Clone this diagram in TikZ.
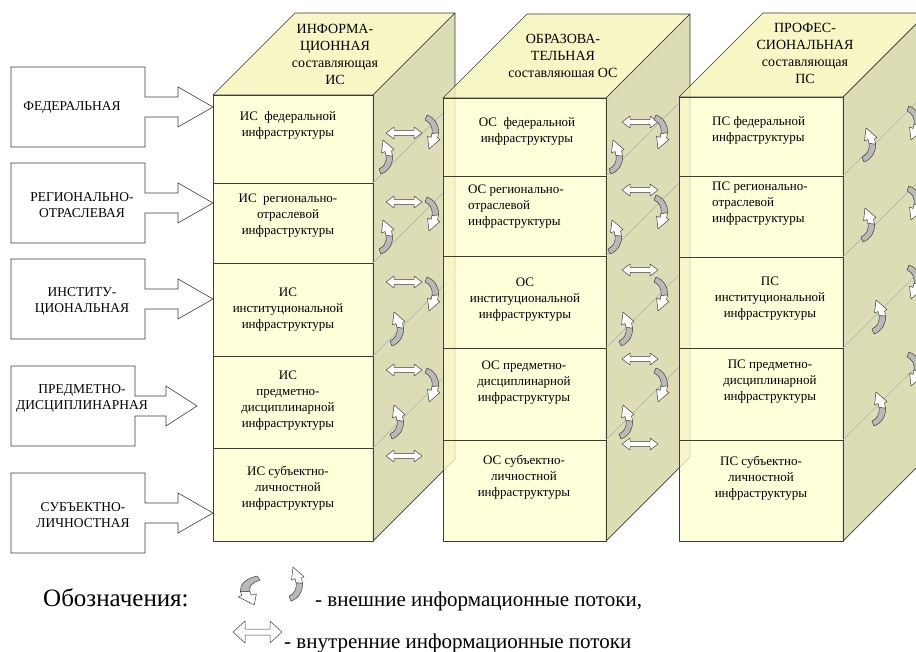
\documentclass[tikz,border=0pt]{standalone}
\usepackage{fontspec}
\setmainfont{Liberation Serif}
\newfontfamily\tnr{Liberation Serif}

\definecolor{frontc}{RGB}{255,255,206}
\definecolor{topc}{RGB}{244,244,179}
\definecolor{sidec}{RGB}{210,210,156}
\definecolor{edgec}{RGB}{60,60,60}
\definecolor{bandc}{RGB}{185,185,185}

\tikzset{
  extR/.pic={
    \filldraw[band] (2,0) .. controls (10,3) and (14,10) .. (13.5,18) -- (7,18.5) .. controls (8,12) and (5,7) .. (0,5) -- cycle;
    \filldraw[headc] (13.5,18) .. controls (13.5,21) .. (12.5,23) -- (15,24.5) -- (4,34) -- (2.5,21) -- (6,22.5) .. controls (6.8,21) .. (7,18.5) -- cycle;
  },
  extL/.pic={\pic[yscale=-1] at (0,34) {extR};},
  intA/.pic={
    \filldraw[headc] (-18,0) -- (-10,-6) -- (-10,-2.5) -- (10,-2.5) -- (10,-6) -- (18,0) -- (10,6) -- (10,2.5) -- (-10,2.5) -- (-10,6) -- cycle;
  },
  intB/.pic={
    \filldraw[headc] (-24.5,0) -- (-12.5,-11) -- (-12.5,-3) -- (12.5,-3) -- (12.5,-11) -- (24.5,0) -- (12.5,11) -- (12.5,3) -- (-12.5,3) -- (-12.5,11) -- cycle;
  },
}

\begin{document}
\begin{tikzpicture}[x=1pt,y=-1pt,
  face/.style={draw=edgec, line width=0.7pt, line join=round, fill opacity=0.75},
  frontface/.style={face, fill=frontc},
  topface/.style={face, fill=topc},
  sideface/.style={face, fill=sidec},
  divider/.style={draw=edgec, line width=0.7pt},
  diag/.style={draw=gray!65, line width=0.5pt},
  band/.style={fill=bandc, draw=edgec, line width=0.5pt, line join=round},
  headc/.style={fill=white, draw=edgec, line width=0.5pt, line join=round},
  inbox/.style={draw=edgec, line width=0.6pt, fill=white},
  cell/.style={inner sep=0pt, align=center, font=\tnr\fontsize{13}{16}\selectfont},
  leftcell/.style={cell, align=left},
  toptxt/.style={inner sep=0pt, align=center, font=\tnr\fontsize{14}{17}\selectfont},
  boxtxt/.style={inner sep=0pt, align=center, font=\tnr\fontsize{13.5}{16}\selectfont},
  legtxt/.style={inner sep=0pt, font=\tnr\fontsize{21}{25}\selectfont}
]
\useasboundingbox (0,0) rectangle (916,652);
\clip (0,0) rectangle (916,652);

% levels on the left
\draw[inbox] (11,67) -- (145,67) -- (145,97) -- (178,97) -- (178,87) -- (213,107) -- (178,127) -- (178,117) -- (145,117) -- (145,147) -- (11,147) -- cycle;
\draw[inbox] (11,163) -- (145,163) -- (145,193) -- (178,193) -- (178,183) -- (213,203) -- (178,223) -- (178,213) -- (145,213) -- (145,243) -- (11,243) -- cycle;
\draw[inbox] (11,259) -- (145,259) -- (145,289) -- (178,289) -- (178,279) -- (213,299) -- (178,319) -- (178,309) -- (145,309) -- (145,339) -- (11,339) -- cycle;
\draw[inbox] (11,366) -- (135,366) -- (135,396) -- (166,396) -- (166,386) -- (197,406) -- (166,426) -- (166,416) -- (135,416) -- (135,446) -- (11,446) -- cycle;
\draw[inbox] (11,473) -- (145,473) -- (145,503) -- (178,503) -- (178,493) -- (213,513) -- (178,533) -- (178,523) -- (145,523) -- (145,553) -- (11,553) -- cycle;
\node[boxtxt] (fed) at (72,107) {ФЕДЕРАЛЬНАЯ};
\node[boxtxt] (reg) at (82,205) {РЕГИОНАЛЬНО-\\ОТРАСЛЕВАЯ};
\node[boxtxt] (inst) at (82,301) {ИНСТИТУ-\\ЦИОНАЛЬНАЯ};
\node[boxtxt] (pred) at (82,398) {ПРЕДМЕТНО-\\ДИСЦИПЛИНАРНАЯ};
\node[boxtxt] (subj) at (83,515) {СУБЪЕКТНО-\\ЛИЧНОСТНАЯ};

% column IS
\filldraw[topface] (213,95) -- (373,95) -- (455,13) -- (295,13) -- cycle;
\filldraw[sideface] (373,95) -- (455,13) -- (455,459) -- (373,541) -- cycle;
\filldraw[frontface] (213,95) rectangle (373,541);
\foreach \yy in {183,263,356,448} {
  \draw[divider] (213,\yy) -- (373,\yy);
  \draw[diag] (373,\yy) -- ++(82,-82);
}
\foreach \yy in {133,202,282,370,456} \pic at (404,\yy) {intA};
\foreach \yy in {115,197,277,368} \pic at (425,\yy) {extR};
\foreach \xx/\yy in {379/140,379/220,390/312,390/405} \pic at (\xx,\yy) {extL};
\node[toptxt] (ishead) at (335,54) {ИНФОРМА-\\ЦИОННАЯ\\составляющая\\ИС};
\node[cell] (is1) at (288,125) {ИС\ \ федеральной\\инфраструктуры};
\node[cell] (is2) at (288,216) {ИС\ \ регионально-\\отраслевой\\инфраструктуры};
\node[cell] (is3) at (288,310) {ИС\\институциональной\\инфраструктуры};
\node[cell] (is4) at (288,401) {ИС\\предметно-\\дисциплинарной\\инфраструктуры};
\node[cell] (is5) at (288,488) {ИС субъектно-\\личностной\\инфраструктуры};

% column OS
\filldraw[topface] (443,98) -- (606,98) -- (690,14) -- (527,14) -- cycle;
\filldraw[sideface] (606,98) -- (690,14) -- (690,457) -- (606,541) -- cycle;
\filldraw[frontface] (443,98) rectangle (606,541);
\foreach \yy in {176,256,348,440} {
  \draw[divider] (443,\yy) -- (606,\yy);
  \draw[diag] (606,\yy) -- ++(84,-84);
}
\foreach \yy in {122,190,270,359,444} \pic at (640,\yy) {intA};
\foreach \yy in {115,195,277,368} \pic at (654,\yy) {extR};
\foreach \xx/\yy in {609/140,608/220,619/312,619/405} \pic at (\xx,\yy) {extL};
\node[toptxt] (oshead) at (563,56) {ОБРАЗОВА-\\ТЕЛЬНАЯ\\составляюшая ОС};
\node[cell] (os1) at (527,131) {ОС\ \ федеральной\\инфраструктуры};
\node[leftcell, anchor=west] (os2) at (468,207) {ОС регионально-\\отраслевой\\инфраструктуры};
\node[cell] (os3) at (525,300) {ОС\\институциональной\\инфраструктуры};
\node[cell] (os4) at (524,383) {ОС предметно-\\дисциплинарной\\инфраструктуры};
\node[cell] (os5) at (524,477) {ОС субъектно-\\личностной\\инфраструктуры};

% column PS
\filldraw[topface] (679,97) -- (843,97) -- (927,13) -- (763,13) -- cycle;
\filldraw[sideface] (843,97) -- (927,13) -- (927,457) -- (843,541) -- cycle;
\filldraw[frontface] (679,97) rectangle (843,541);
\foreach \yy in {176,257,348,440} {
  \draw[divider] (679,\yy) -- (843,\yy);
  \draw[diag] (843,\yy) -- ++(84,-84);
}
\foreach \yy in {106,186,265,352} \pic at (907,\yy) {extR};
\foreach \xx/\yy in {862/128,861/208,872/300,872/392} \pic at (\xx,\yy) {extL};
\node[toptxt] (pshead) at (805,53) {ПРОФЕС-\\СИОНАЛЬНАЯ\\составляющая\\ПС};
\node[leftcell, anchor=west] (ps1) at (712,130) {ПС федеральной\\инфраструктуры};
\node[leftcell, anchor=west] (ps2) at (712,204) {ПС регионально-\\отраслевой\\инфраструктуры};
\node[cell] (ps3) at (770,299) {ПС\\институциональной\\инфраструктуры};
\node[cell] (ps4) at (770,382) {ПС предметно-\\дисциплинарной\\инфраструктуры};
\node[cell] (ps5) at (761,478) {ПС субъектно-\\личностной\\инфраструктуры};

% legend
\node[inner sep=0pt, anchor=base west, font=\tnr\fontsize{25}{30}\selectfont] (leg) at (43,606) {Обозначения:};
\pic[xscale=-1.45, yscale=0.85] at (260,576) {extR};
\pic[xscale=1.5, yscale=0.77] at (289,575) {extL};
\pic at (257.5,632) {intB};
\node[legtxt, anchor=base west] (extlab) at (315,606) {- внешние информационные потоки,};
\node[legtxt, anchor=base west] (intlab) at (284,648) {- внутренние информационные потоки};
\end{tikzpicture}
\end{document}
